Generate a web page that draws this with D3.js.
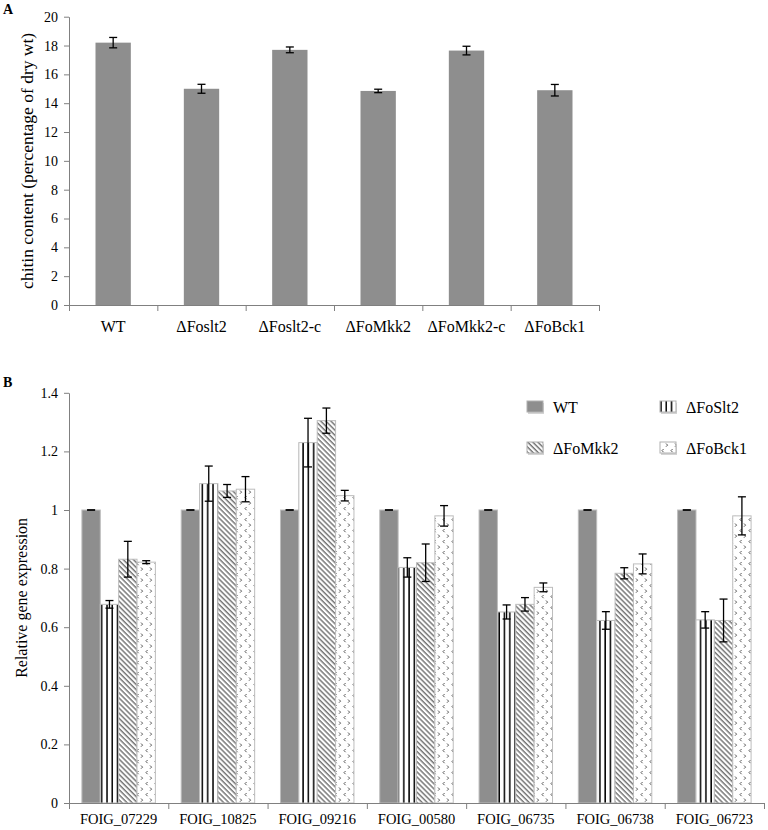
<!DOCTYPE html>
<html>
<head>
<meta charset="utf-8">
<script src="https://cdn.jsdelivr.net/npm/d3@7/dist/d3.min.js"></script>
<style>
    html, body { margin:0; padding:0; background:#fff; }
    svg { display:block; }
    text { font-family:"Liberation Serif", "Times New Roman", serif; fill:#000; }
    .axis path, .axis line { stroke:#808080; }
</style>
</head>
<body>
<div id="chart"></div>
<script>
// panel A: chitin content
var chitinStrains = ['WT', 'ΔFoslt2', 'ΔFoslt2-c', 'ΔFoMkk2', 'ΔFoMkk2-c', 'ΔFoBck1'];
var chitinMeans = [18.2, 15.0, 17.7, 14.85, 17.65, 14.9];
var chitinErrors = [0.36, 0.31, 0.2, 0.12, 0.3, 0.4];
var chitinTicks = [0, 2, 4, 6, 8, 10, 12, 14, 16, 18, 20];

// panel B: relative gene expression
var genes = ['FOIG_07229', 'FOIG_10825', 'FOIG_09216', 'FOIG_00580', 'FOIG_06735', 'FOIG_06738', 'FOIG_06723'];
var strains = ['WT', 'ΔFoSlt2', 'ΔFoMkk2', 'ΔFoBck1'];
var wtExpr = [1, 1, 1, 1, 1, 1, 1];
var wtErr = [0, 0, 0, 0, 0, 0, 0];
var slt2Expr = [0.678, 1.09, 1.23, 0.804, 0.652, 0.623, 0.625];
var slt2Err = [0.013, 0.06, 0.083, 0.033, 0.024, 0.03, 0.028];
var mkk2Expr = [0.832, 1.065, 1.305, 0.82, 0.678, 0.784, 0.623];
var mkk2Err = [0.061, 0.022, 0.043, 0.064, 0.023, 0.019, 0.073];
var bck1Expr = [0.822, 1.071, 1.049, 0.98, 0.736, 0.816, 0.98];
var bck1Err = [0.005, 0.043, 0.018, 0.035, 0.015, 0.034, 0.065];
var exprTicks = [0, 0.2, 0.4, 0.6, 0.8, 1, 1.2, 1.4];

var grey = '#8e8e8e';
var fills = ['url(#p-solid)', 'url(#p-vert)', 'url(#p-diag)', 'url(#p-chev)'];

var svg = d3.select('#chart').append('svg')
    .attr('width', 768)
    .attr('height', 830);

/**
 * 填充图案
 */
function makePatterns(){
    var defs = svg.append('defs');

    defs.append('pattern').attr('id', 'p-solid')
        .attr('patternUnits', 'userSpaceOnUse').attr('width', 4).attr('height', 4)
        .append('rect').attr('width', 4).attr('height', 4).attr('fill', grey);

    var v = defs.append('pattern').attr('id', 'p-vert')
        .attr('patternUnits', 'userSpaceOnUse').attr('width', 5.3).attr('height', 10);
    v.append('rect').attr('width', 5.3).attr('height', 10).attr('fill', '#fff');
    v.append('line').attr('x1', 1).attr('x2', 1).attr('y1', 0).attr('y2', 10)
        .attr('stroke', '#000').attr('stroke-width', 1.5);

    var d = defs.append('pattern').attr('id', 'p-diag')
        .attr('patternUnits', 'userSpaceOnUse').attr('width', 3.6).attr('height', 4)
        .attr('patternTransform', 'rotate(-45)');
    d.append('rect').attr('width', 3.6).attr('height', 4).attr('fill', '#fff');
    d.append('line').attr('x1', 1).attr('x2', 1).attr('y1', 0).attr('y2', 4)
        .attr('stroke', '#111').attr('stroke-width', 0.9);

    // 小尖角点阵
    var c = defs.append('pattern').attr('id', 'p-chev')
        .attr('patternUnits', 'userSpaceOnUse').attr('width', 9).attr('height', 11);
    c.append('rect').attr('width', 9).attr('height', 11).attr('fill', '#fff');
    c.append('path').attr('d', 'M3.6,1 L2,2.6 L3.6,4.2')
        .attr('fill', 'none').attr('stroke', '#555').attr('stroke-width', 1);
    c.append('path').attr('d', 'M6,6.5 L7.6,8.1 L6,9.7')
        .attr('fill', 'none').attr('stroke', '#555').attr('stroke-width', 1);
}

/**
 * 误差线
 */
function errorBar($g, cx, yTop, yBottom, cap){
    $g.append('line').attr('x1', cx).attr('x2', cx).attr('y1', yTop).attr('y2', yBottom)
        .attr('stroke', '#000').attr('stroke-width', 1.3);
    $g.append('line').attr('x1', cx - cap/2).attr('x2', cx + cap/2).attr('y1', yTop).attr('y2', yTop)
        .attr('stroke', '#000').attr('stroke-width', 1.3);
    $g.append('line').attr('x1', cx - cap/2).attr('x2', cx + cap/2).attr('y1', yBottom).attr('y2', yBottom)
        .attr('stroke', '#000').attr('stroke-width', 1.3);
}

/**
 * 图A 几丁质含量
 */
function drawChitin(){
    var left = 69, right = 599, top = 16.7, bottom = 305;

    var x = d3.scaleBand().domain(chitinStrains).range([left, right])
        .paddingInner(0.6).paddingOuter(0.3);
    var xEdge = d3.scaleLinear().domain([0, chitinStrains.length]).range([left, right]);
    var y = d3.scaleLinear().domain([0, 20]).range([bottom, top]);

    var $g = svg.append('g');

    $g.selectAll('rect.bar').data(chitinMeans).enter().append('rect')
        .attr('class', 'bar')
        .attr('x', function(d, i){ return x(chitinStrains[i]); })
        .attr('y', function(d){ return y(d); })
        .attr('width', x.bandwidth())
        .attr('height', function(d){ return bottom - y(d); })
        .attr('fill', grey);

    for(var i=0; i<chitinMeans.length; i++){
        var cx = x(chitinStrains[i]) + x.bandwidth()/2;
        errorBar($g, cx, y(chitinMeans[i] + chitinErrors[i]), y(chitinMeans[i] - chitinErrors[i]), 8);
    }

    //axis-y
    var axisY = d3.axisLeft(y).tickValues(chitinTicks).tickSize(5).tickSizeOuter(0).tickPadding(6);
    $g.append('g').classed('axis', true)
        .attr('transform', 'translate(' + left + ',0)')
        .call(axisY)
        .selectAll('text').style('font-size', '14px');

    //axis-x: 分隔刻度 + 标签
    var axisEdge = d3.axisBottom(xEdge).tickValues(d3.range(chitinStrains.length + 1))
        .tickSize(6).tickSizeOuter(0).tickFormat('');
    $g.append('g').classed('axis', true)
        .attr('transform', 'translate(0,' + bottom + ')')
        .call(axisEdge);
    var axisX = d3.axisBottom(x).tickSize(0).tickPadding(16);
    var $ax = $g.append('g').classed('axis', true)
        .attr('transform', 'translate(0,' + bottom + ')')
        .call(axisX);
    $ax.select('.domain').remove();
    $ax.selectAll('text').style('font-size', '16px');

    $g.append('text')
        .attr('transform', 'translate(33,' + ((top + bottom)/2) + ') rotate(-90)')
        .attr('text-anchor', 'middle')
        .style('font-size', '17.5px')
        .text('chitin content (percentage of dry wt)');

    $g.append('text').attr('x', 3).attr('y', 14)
        .style('font-size', '14px').style('font-weight', 'bold')
        .text('A');
}

/**
 * 图B 基因相对表达量
 */
function drawExpression(){
    var left = 69, right = 764, top = 392.8, bottom = 803;
    var series = [
        {name:strains[0], values:wtExpr, errors:wtErr},
        {name:strains[1], values:slt2Expr, errors:slt2Err},
        {name:strains[2], values:mkk2Expr, errors:mkk2Err},
        {name:strains[3], values:bck1Expr, errors:bck1Err}
    ];

    var x0 = d3.scaleBand().domain(genes).range([left, right])
        .paddingInner(0.26).paddingOuter(0.13);
    var x1 = d3.scaleBand().domain(strains).range([0, x0.bandwidth()]);
    var xEdge = d3.scaleLinear().domain([0, genes.length]).range([left, right]);
    var y = d3.scaleLinear().domain([0, 1.4]).range([bottom, top]);

    var $g = svg.append('g');

    for(var j=0; j<series.length; j++){
        var s = series[j];
        $g.selectAll('rect.s' + j).data(s.values).enter().append('rect')
            .attr('class', 's' + j)
            .attr('x', function(d, i){ return x0(genes[i]) + x1(s.name); })
            .attr('y', function(d){ return y(d); })
            .attr('width', x1.bandwidth())
            .attr('height', function(d){ return bottom - y(d); })
            .attr('fill', fills[j])
            .attr('stroke', '#bdbdbd')
            .attr('stroke-width', 1);
    }

    for(var j=0; j<series.length; j++){
        for(var i=0; i<genes.length; i++){
            var v = series[j].values[i], e = series[j].errors[i];
            var cx = x0(genes[i]) + x1(series[j].name) + x1.bandwidth()/2;
            errorBar($g, cx, y(v + e), y(v - e), 8);
        }
    }

    //axis-y
    var axisY = d3.axisLeft(y).tickValues(exprTicks).tickSize(5).tickSizeOuter(0).tickPadding(6)
        .tickFormat(function(d){ return String(+d.toFixed(1)); });
    $g.append('g').classed('axis', true)
        .attr('transform', 'translate(' + left + ',0)')
        .call(axisY)
        .selectAll('text').style('font-size', '14px');

    //axis-x
    var axisEdge = d3.axisBottom(xEdge).tickValues(d3.range(genes.length + 1))
        .tickSize(6).tickSizeOuter(0).tickFormat('');
    $g.append('g').classed('axis', true)
        .attr('transform', 'translate(0,' + bottom + ')')
        .call(axisEdge);
    var axisX = d3.axisBottom(x0).tickSize(0).tickPadding(11);
    var $ax = $g.append('g').classed('axis', true)
        .attr('transform', 'translate(0,' + bottom + ')')
        .call(axisX);
    $ax.select('.domain').remove();
    $ax.selectAll('text').style('font-size', '14.5px');

    $g.append('text')
        .attr('transform', 'translate(27,' + ((top + bottom)/2) + ') rotate(-90)')
        .attr('text-anchor', 'middle')
        .style('font-size', '16px')
        .text('Relative gene expression');

    $g.append('text').attr('x', 3).attr('y', 387)
        .style('font-size', '14px').style('font-weight', 'bold')
        .text('B');

    //图例
    var legendX = [527, 660], legendY = [407, 448];
    for(var k=0; k<strains.length; k++){
        var lx = legendX[k % 2], ly = legendY[Math.floor(k / 2)];
        var $l = $g.append('g').attr('transform', 'translate(' + lx + ',' + ly + ')');
        $l.append('rect').attr('x', 1).attr('y', -4).attr('width', 16).attr('height', 11)
            .attr('fill', '#d4d4d4');
        $l.append('rect').attr('x', 0).attr('y', -6).attr('width', 16).attr('height', 11)
            .attr('fill', fills[k])
            .attr('stroke', '#b0b0b0');
        $l.append('text').attr('x', 26).attr('y', 5.5)
            .style('font-size', '16px')
            .text(strains[k]);
    }
}

makePatterns();
drawChitin();
drawExpression();
</script>
</body>
</html>
